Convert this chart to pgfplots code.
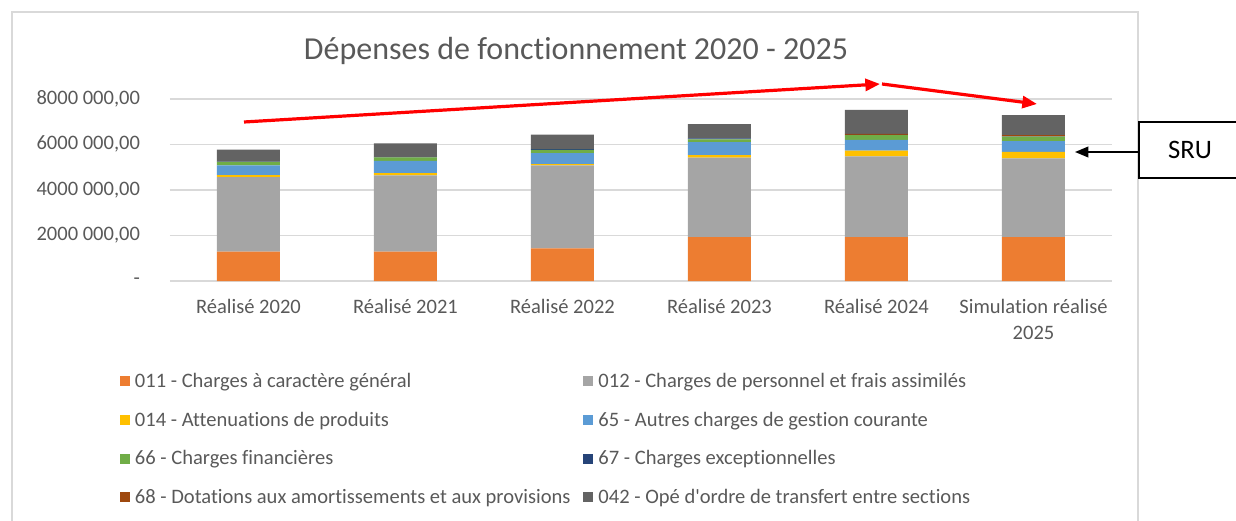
\documentclass[border=0pt]{standalone}
\usepackage{pgfplots}
\pgfplotsset{compat=1.18}
\usepackage{fontspec}
\setmainfont{Carlito}[Ligatures={NoCommon}]
\usetikzlibrary{arrows.meta}
\definecolor{cA}{HTML}{ED7D31}
\definecolor{cB}{HTML}{A5A5A5}
\definecolor{cC}{HTML}{FFC000}
\definecolor{cD}{HTML}{5B9BD5}
\definecolor{cE}{HTML}{70AD47}
\definecolor{cF}{HTML}{264478}
\definecolor{cG}{HTML}{9E480E}
\definecolor{cH}{HTML}{636363}
\definecolor{txt}{HTML}{595959}
\definecolor{gridc}{HTML}{D9D9D9}

\begin{document}
\begin{tikzpicture}
  \begin{axis}[
      at={(0,0)}, anchor=south west,
      scale only axis, width=706.5pt, height=136.7pt,
      ybar stacked, bar width=47.25pt,
      xmin=-0.5, xmax=5.5, ymin=0, ymax=8000000,
      xtick={0,1,2,3,4,5},
      xticklabels={Réalisé 2020, Réalisé 2021, Réalisé 2022, Réalisé 2023, Réalisé 2024, {Simulation réalisé\\2025}},
      xticklabel style={align=center, font=\fontsize{15.4}{19}\selectfont, text=txt, yshift=-10.5pt},
      ytick={0,2000000,4000000,6000000,8000000},
      yticklabels={{-\hspace{15pt}},{2000 000,00},{4000 000,00},{6000 000,00},{8000 000,00}},
      yticklabel style={font=\fontsize{15.4}{19}\selectfont, text=txt, xshift=-19pt},
      scaled y ticks=false,
      ymajorgrids, grid style={gridc, line width=1.2pt},
      axis line style={draw=none},
      major tick length=0pt,
      legend columns=2,
      legend cell align=left,
      legend image code/.code={\fill[#1] (0pt,-3.75pt) rectangle (7.5pt,3.75pt);},
      legend style={at={(axis description cs:-0.058,-0.475)}, anchor=north west,
        draw=none, fill=none, text=txt, font=\fontsize{15.4}{19}\selectfont,
        row sep=12.8pt,
        /tikz/every even column/.append style={column sep=7.5pt}},
    ]
    % 011 - Charges a caractere general
    \addplot[fill=cA, draw=none] coordinates {(0,1290000) (1,1290000) (2,1430000) (3,1930000) (4,1930000) (5,1930000)};
    \addlegendentry{\hspace{2pt}011 - Charges à caractère général}
    % 012
    \addplot[fill=cB, draw=none] coordinates {(0,3270000) (1,3350000) (2,3640000) (3,3490000) (4,3540000) (5,3450000)};
    \addlegendentry{\hspace{2pt}012 - Charges de personnel et frais assimilés}
    % 014
    \addplot[fill=cC, draw=none] coordinates {(0,90000) (1,90000) (2,60000) (3,100000) (4,250000) (5,290000)};
    \addlegendentry{\hspace{2pt}014 - Attenuations de produits}
    % 65
    \addplot[fill=cD, draw=none] coordinates {(0,420000) (1,540000) (2,480000) (3,580000) (4,480000) (5,470000)};
    \addlegendentry{\hspace{2pt}65 - Autres charges de gestion courante}
    % 66
    \addplot[fill=cE, draw=none] coordinates {(0,160000) (1,160000) (2,150000) (3,120000) (4,200000) (5,200000)};
    \addlegendentry{\hspace{2pt}66 - Charges financières}
    % 67
    \addplot[fill=cF, draw=none] coordinates {(0,10000) (1,10000) (2,30000) (3,40000) (4,10000) (5,10000)};
    \addlegendentry{\hspace{2pt}67 - Charges exceptionnelles}
    % 68
    \addplot[fill=cG, draw=none] coordinates {(0,0) (1,0) (2,0) (3,0) (4,50000) (5,50000)};
    \addlegendentry{\hspace{2pt}68 - Dotations aux amortissements et aux provisions}
    % 042
    \addplot[fill=cH, draw=none] coordinates {(0,530000) (1,600000) (2,630000) (3,630000) (4,1050000) (5,880000)};
    \addlegendentry{\hspace{2pt}042 - Opé d\textquotesingle ordre de transfert entre sections}
  \end{axis}

  % annotations in picture pixels (origin top left)
  \begin{scope}[x=0.75pt, y=-0.75pt, shift={(-127.5pt,210.75pt)}]
    \useasboundingbox (0,0) rectangle (1236,521);
    \draw[gridc, line width=1.2pt] (12,530) -- (12,12) -- (1138,12) -- (1138,530);
    \node[text=txt, font=\fontsize{24}{28}\selectfont] at (576,51) {Dépenses de fonctionnement 2020 - 2025};
    \draw[red, line width=2.4pt, -{Triangle[length=11pt,width=9pt]}] (244,122) -- (880,84);
    \draw[red, line width=2.4pt, -{Triangle[length=11pt,width=9pt]}] (882,84) -- (1037,104);
    \draw[black, line width=1pt, fill=white] (1139,122) rectangle (1245,178);
    \node[font=\fontsize{20}{24}\selectfont] at (1190,150) {SRU};
    \draw[black, line width=1.2pt, -{Triangle[length=10pt,width=8pt]}] (1139,152) -- (1075,152);
  \end{scope}
\end{tikzpicture}
\end{document}
